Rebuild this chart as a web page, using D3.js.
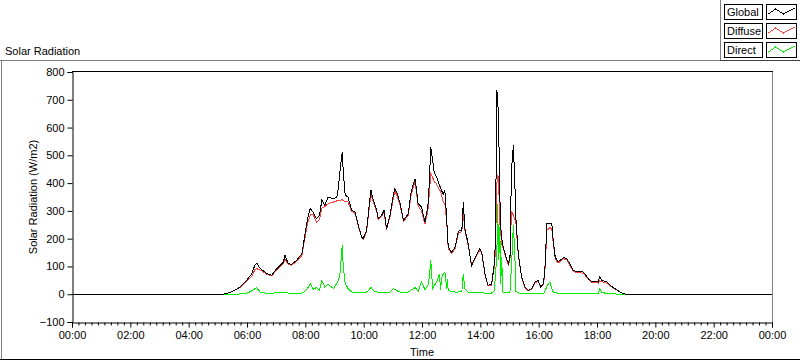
<!DOCTYPE html>
<html>
<head>
<meta charset="utf-8">
<script src="https://cdn.jsdelivr.net/npm/d3@7"></script>
<style>
html,body{margin:0;padding:0;background:#fff;}
svg{display:block;}
text{font-family:"Liberation Sans",Arial,sans-serif;font-size:11px;fill:#000;}
</style>
</head>
<body>
<svg id="chart" width="800" height="361"></svg>
<script>
// ---- data ----
const times = ["00:00","05:09","05:18","05:32","05:46","05:59","06:10","06:16","06:20","06:27","06:41","06:51","07:01","07:15","07:18","07:25","07:32","07:42","07:53","07:59","08:04","08:10","08:16","08:23","08:29","08:34","08:40","08:47","08:58","09:05","09:08","09:11","09:16","09:18","09:22","09:28","09:35","09:42","09:49","09:56","09:59","10:06","10:11","10:15","10:20","10:27","10:30","10:37","10:42","10:47","10:54","11:01","11:04","11:09","11:15","11:22","11:32","11:37","11:42","11:46","11:52","11:59","12:06","12:12","12:15","12:18","12:22","12:25","12:30","12:36","12:38","12:41","12:44","12:47","12:51","12:52","12:54","13:01","13:08","13:15","13:22","13:25","13:28","13:35","13:42","13:49","13:59","14:03","14:10","14:16","14:23","14:28","14:31","14:34","14:36","14:37","14:39","14:40","14:42","14:44","14:46","14:47","14:54","14:58","15:01","15:04","15:08","15:11","15:13","15:18","15:25","15:32","15:39","15:46","15:52","15:59","16:04","16:10","16:13","16:17","16:23","16:27","16:30","16:34","16:40","16:51","16:58","17:04","17:11","17:18","17:32","17:42","17:49","18:03","18:05","18:10","18:20","18:27","18:37","18:47","18:58","24:00"];
const globalRad = [0,0,2,12,26,50,74,104,112,93,74,68,92,116,140,110,108,122,146,212,266,308,296,272,284,338,320,350,344,350,386,440,512,440,356,350,302,296,248,206,200,230,314,374,338,302,272,284,302,236,284,356,380,362,326,266,290,362,398,416,326,314,260,314,398,530,482,440,422,390,386,370,360,375,266,230,170,150,170,226,232,332,240,180,104,130,164,150,68,32,36,98,182,734,700,626,494,360,242,200,180,170,128,110,134,446,536,400,278,146,62,26,14,20,44,50,26,38,98,254,254,254,194,134,116,132,128,110,86,82,80,56,46,44,64,50,44,32,20,8,0,0];
const diffuseRad = [0,0,2,12,25,47,64,88,92,87,72,66,87,112,126,106,105,118,140,200,250,285,288,258,268,310,315,326,332,336,338,338,340,336,334,332,298,292,245,203,197,224,302,362,330,296,268,280,296,232,278,344,372,354,320,262,284,352,388,404,318,300,252,300,360,434,420,405,398,374,372,350,332,325,262,222,165,146,164,220,226,296,230,176,102,126,160,146,65,30,33,90,150,400,428,420,330,260,220,180,170,165,124,106,124,300,284,270,262,142,60,24,12,18,41,47,24,35,88,230,240,236,185,128,112,128,124,104,82,78,76,53,43,40,48,45,40,30,19,8,0,0];
const directRad = [0,0,0,0,1,3,12,20,23,8,3,3,6,5,6,4,3,3,4,10,20,38,18,24,15,50,26,36,20,40,50,68,176,98,40,20,8,6,5,5,5,8,15,26,12,8,6,6,8,6,8,20,18,12,8,6,8,14,20,24,10,44,17,30,60,122,20,30,44,74,14,62,74,80,20,56,14,10,8,8,10,74,20,8,5,5,6,5,4,3,4,10,60,150,326,122,160,242,38,134,10,8,5,5,10,98,248,146,10,5,3,2,2,2,3,3,2,3,10,30,44,20,8,5,4,4,4,4,3,3,3,3,3,4,20,6,3,2,1,0,0,0];
const yTickValues = [-100,0,100,200,300,400,500,600,700,800];
const xTickLabels = ["00:00","02:00","04:00","06:00","08:00","10:00","12:00","14:00","16:00","18:00","20:00","22:00","00:00"];
const seriesNames = ["Global","Diffuse","Direct"];
const seriesColors = {"Global":"#000000","Diffuse":"#ff4040","Direct":"#00f000"};

// ---- helpers ----
const toMin = s => { const [h,m] = s.split(":").map(Number); return h*60+m; };
const mins = times.map(toMin);

const svg = d3.select("#chart");
const L = 72, R = 772, T = 72, B = 322;

const x = d3.scaleLinear().domain([0,1440]).range([L, R]);
const y = d3.scaleLinear().domain([-100,800]).range([B, T]);

// outer panel frame
svg.append("line").attr("x1",0).attr("x2",721).attr("y1",60.5).attr("y2",60.5).attr("stroke","#808080");
svg.append("line").attr("x1",1.5).attr("x2",1.5).attr("y1",60).attr("y2",360).attr("stroke","#808080");
svg.append("line").attr("x1",0).attr("x2",800).attr("y1",359.5).attr("y2",359.5).attr("stroke","#000");
// legend frame
svg.append("line").attr("x1",720.5).attr("x2",720.5).attr("y1",0).attr("y2",61).attr("stroke","#808080");
svg.append("line").attr("x1",720).attr("x2",800).attr("y1",60.5).attr("y2",60.5).attr("stroke","#404040");

// title
svg.append("text").attr("x",5).attr("y",55).text("Solar Radiation");

// plot area
svg.append("rect").attr("x",L).attr("y",T-1).attr("width",R-L).attr("height",B-T+1).attr("fill","#fff");

// data lines
const line = d3.line().x((d,i)=>x(mins[i])).y(d=>y(d));
const drawOrder = [["Diffuse",diffuseRad],["Direct",directRad],["Global",globalRad]];
drawOrder.forEach(([name,vals])=>{
  svg.append("path").datum(vals).attr("d",line)
    .attr("fill","none").attr("stroke",seriesColors[name]).attr("stroke-width",1)
    .attr("shape-rendering","crispEdges");
});

// frame lines of plot
svg.append("line").attr("x1",R+0.5).attr("x2",R+0.5).attr("y1",T-1).attr("y2",B+1).attr("stroke","#808080");
svg.append("line").attr("x1",L).attr("x2",R+1).attr("y1",T-0.5).attr("y2",T-0.5).attr("stroke","#000");

// y axis
const yAxis = d3.axisLeft(y).tickValues(yTickValues).tickSize(5).tickPadding(3).tickFormat(d3.format("d"));
const gy = svg.append("g").attr("transform",`translate(${L+0.5},0)`).call(yAxis);
gy.select(".domain").attr("stroke","#000");
gy.selectAll("text").style("font-family","'Liberation Sans',Arial,sans-serif").style("font-size","11px").attr("fill","#000");

// x axis major
const majorVals = d3.range(0,1441,120);
const xAxis = d3.axisBottom(x).tickValues(majorVals).tickSize(5).tickPadding(4)
  .tickFormat((d,i)=>xTickLabels[i]);
const gx = svg.append("g").attr("transform",`translate(0,${B+0.5})`).call(xAxis);
gx.select(".domain").attr("stroke","#000");
gx.selectAll("text").style("font-family","'Liberation Sans',Arial,sans-serif").style("font-size","11px").attr("fill","#000");
// x axis minor ticks
const minorVals = d3.range(0,109).filter(i=>i%9!==0).map(i=>i*120/9);
const xMinor = d3.axisBottom(x).tickValues(minorVals).tickSize(3).tickFormat("");
const gxm = svg.append("g").attr("transform",`translate(0,${B+0.5})`).call(xMinor);
gxm.select(".domain").remove();

// axis titles
svg.append("text").attr("x",(L+R)/2).attr("y",356).attr("text-anchor","middle").text("Time");
svg.append("text").attr("transform",`translate(37,${(T+B)/2}) rotate(-90)`).attr("text-anchor","middle").text("Solar Radiation (W/m2)");

// legend
const legRows = [4,23,42];
const samplePts = [[2,10],[9,5],[17,10],[28,4]];
seriesNames.forEach((name,i)=>{
  const yy = legRows[i];
  svg.append("rect").attr("x",724.5).attr("y",yy+0.5).attr("width",38).attr("height",15).attr("fill","#fff").attr("stroke","#000");
  svg.append("text").attr("x",727).attr("y",yy+12).text(name);
  svg.append("rect").attr("x",766.5).attr("y",yy+0.5).attr("width",30).attr("height",15).attr("fill","#fff").attr("stroke","#000");
  svg.append("path").attr("d",d3.line()(samplePts.map(p=>[766.5+p[0],yy+p[1]])))
    .attr("fill","none").attr("stroke",seriesColors[name]).attr("stroke-width",1).attr("shape-rendering","crispEdges");
});
</script>
</body>
</html>
